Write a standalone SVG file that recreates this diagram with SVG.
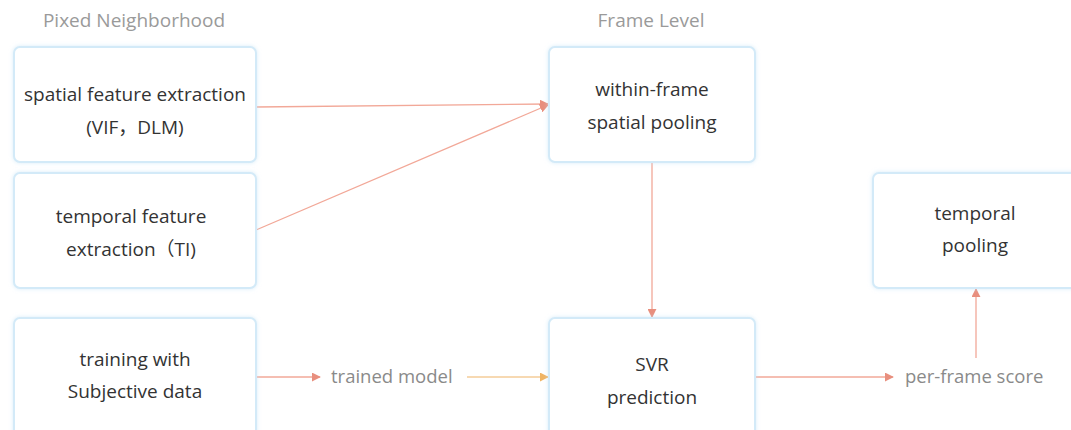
<svg xmlns="http://www.w3.org/2000/svg" width="1071" height="430" viewBox="0 0 1071 430">
<defs>
<filter id="glow" x="-10%" y="-10%" width="120%" height="120%">
<feGaussianBlur in="SourceAlpha" stdDeviation="2" result="blur"/>
<feFlood flood-color="#bfe0f5" flood-opacity="0.6" result="col"/>
<feComposite operator="in" in="col" in2="blur" result="shadow"/>
<feMerge><feMergeNode in="shadow"/><feMergeNode in="SourceGraphic"/></feMerge>
</filter>
<marker id="ar" viewBox="0 0 10 10" refX="9" refY="5" markerWidth="9" markerHeight="9" markerUnits="userSpaceOnUse" orient="auto">
<path d="M0,0 L10,5 L0,10 z" fill="#e88f7e"/>
</marker>
<marker id="ao" viewBox="0 0 10 10" refX="9" refY="5" markerWidth="9" markerHeight="9" markerUnits="userSpaceOnUse" orient="auto">
<path d="M0,0 L10,5 L0,10 z" fill="#f0b464"/>
</marker>
</defs>
<style>
.box{fill:#ffffff;stroke:#d3eaf8;stroke-width:2;filter:url(#glow)}
.t{font-family:"Open Sans","Noto Sans","Noto Sans CJK SC",sans-serif;font-size:19px;fill:#333333;text-anchor:middle}
.h{font-family:"Open Sans","Noto Sans",sans-serif;font-size:19px;fill:#9a9a9a;text-anchor:middle}
.lbl{font-family:"Open Sans","Noto Sans",sans-serif;font-size:18.5px;fill:#8a8a8a}
.c{fill:none;stroke:#f2a898;stroke-width:1.3}
.co{fill:none;stroke:#f5cc98;stroke-width:1.3}
</style>
<rect width="1071" height="430" fill="#ffffff"/>
<text class="h" x="134" y="27">Pixed Neighborhood</text>
<text class="h" x="651" y="27">Frame Level</text>
<g id="connectors">
<line class="c" x1="256" y1="107" x2="548" y2="104" marker-end="url(#ar)"/>
<line class="c" x1="256" y1="230" x2="548" y2="105" marker-end="url(#ar)"/>
<line class="c" x1="652" y1="163" x2="652" y2="317" marker-end="url(#ar)"/>
<line class="c" x1="256" y1="377" x2="320" y2="377" marker-end="url(#ar)"/>
<text class="lbl" x="331" y="383">trained model</text>
<line class="co" x1="467" y1="377" x2="548" y2="377" marker-end="url(#ao)"/>
<line class="c" x1="756" y1="377" x2="893" y2="377" marker-end="url(#ar)"/>
<text class="lbl" x="905" y="383">per-frame score</text>
<line class="c" x1="976" y1="358" x2="976" y2="289" marker-end="url(#ar)"/>
</g>
<g id="spatial">
<rect class="box" x="14" y="47" width="242" height="115" rx="6"/>
<text class="t" x="135" y="101">spatial feature extraction</text>
<text class="t" x="135" y="134">(VIF，DLM)</text>
</g>
<g id="temporal-feature">
<rect class="box" x="14" y="173" width="242" height="115" rx="6"/>
<text class="t" x="131" y="223">temporal feature</text>
<text class="t" x="131" y="256">extraction（TI)</text>
</g>
<g id="training">
<rect class="box" x="14" y="318" width="242" height="130" rx="6"/>
<text class="t" x="135" y="366">training with</text>
<text class="t" x="135" y="398">Subjective data</text>
</g>
<g id="within-frame">
<rect class="box" x="549" y="47" width="206" height="115" rx="6"/>
<text class="t" x="652" y="96">within-frame</text>
<text class="t" x="652" y="129">spatial pooling</text>
</g>
<g id="svr">
<rect class="box" x="549" y="318" width="206" height="130" rx="6"/>
<text class="t" x="652" y="371">SVR</text>
<text class="t" x="652" y="404">prediction</text>
</g>
<g id="temporal-pooling">
<rect class="box" x="873" y="173" width="206" height="115" rx="6"/>
<text class="t" x="975" y="220">temporal</text>
<text class="t" x="975" y="252">pooling</text>
</g>
</svg>
